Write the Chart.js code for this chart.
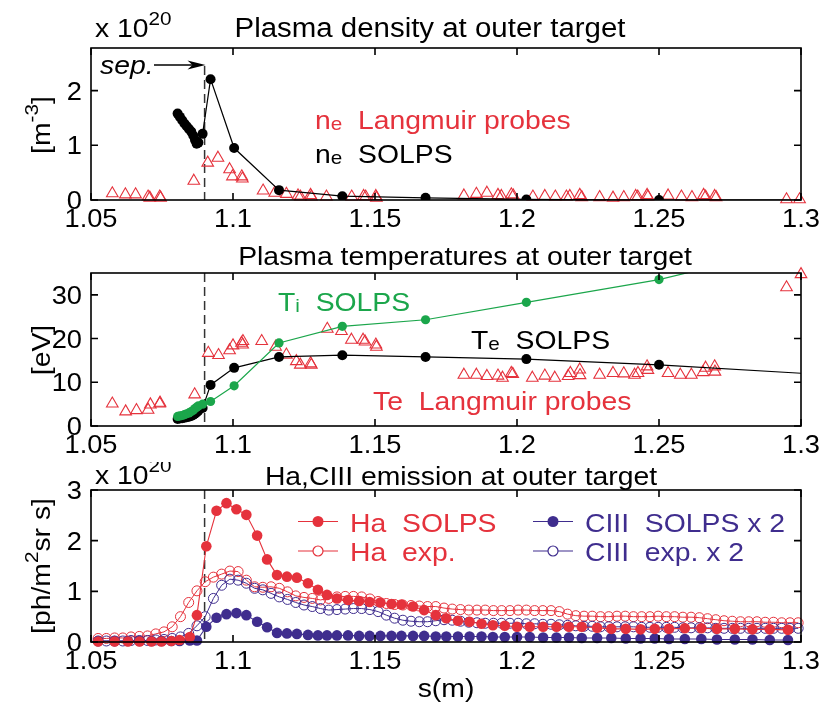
<!DOCTYPE html>
<html>
<head>
<meta charset="utf-8">
<script src="https://cdn.jsdelivr.net/npm/chart.js@4/dist/chart.umd.min.js"></script>
<style>
  body { margin: 0; background: #fff; width: 827px; height: 704px; position: relative; overflow: hidden; }
  canvas { position: absolute; left: 0; }
</style>
</head>
<body>
<canvas id="densityChart" width="827" height="236" style="top:0px"></canvas>
<canvas id="tempChart" width="827" height="226" style="top:236px"></canvas>
<canvas id="emissionChart" width="827" height="242" style="top:462px"></canvas>
<script>
// ---- data ----
const sepS = 1.09;
const xTicks = [1.05, 1.1, 1.15, 1.2, 1.25, 1.3];
const neTicks = [0, 1, 2];
const tTicks = [0, 10, 20, 30];
const emTicks = [0, 1, 2, 3];

// SOLPS grid points along the target (s in m), shared by ne, Te, Ti
const solpsS = [1.0805, 1.0813, 1.0821, 1.0829, 1.0837, 1.0845, 1.0853, 1.0860, 1.0866, 1.0872,
  1.0878, 1.0893, 1.0921, 1.1004, 1.1162, 1.1385, 1.1678, 1.2033, 1.25, 1.32];
const neSolps = [1.58, 1.52, 1.46, 1.40, 1.35, 1.30, 1.25, 1.18, 1.10, 1.03,
  1.05, 1.21, 2.21, 0.95, 0.18, 0.07, 0.04, 0.01, 0.0, 0.0];
const teSolps = [1.6, 1.7, 1.8, 1.9, 2.0, 2.1, 2.3, 2.5, 2.8, 3.1,
  3.5, 4.1, 9.4, 13.3, 15.8, 16.2, 15.8, 15.3, 14.0, 11.3];
const tiSolps = [2.2, 2.3, 2.4, 2.6, 2.8, 3.0, 3.3, 3.6, 4.0, 4.3,
  4.6, 5.0, 5.6, 9.2, 19.0, 22.8, 24.3, 28.3, 33.5, 44.4];

// Langmuir probes
const neProbeS = [1.0575, 1.0621, 1.0657, 1.0701, 1.0707, 1.0742, 1.0745, 1.0862, 1.0911, 1.0947,
  1.0988, 1.0998, 1.1031, 1.1033, 1.1106, 1.1147, 1.1188, 1.1229, 1.1237, 1.1273,
  1.1276, 1.1329, 1.1418, 1.1460, 1.1467, 1.1503, 1.1505, 1.1813, 1.1857, 1.1894,
  1.1933, 1.1945, 1.1980, 1.1987, 1.2056, 1.2098, 1.2135, 1.2174, 1.2186, 1.2221,
  1.2228, 1.2291, 1.2338, 1.2376, 1.2418, 1.2425, 1.2458, 1.2461, 1.2532, 1.2579,
  1.2616, 1.2657, 1.2664, 1.2696, 1.2701, 1.2949, 1.2995];
const neProbe = [0.12, 0.10, 0.10, 0.06, 0.04, 0.06, 0.04, 0.35, 0.68, 0.77,
  0.56, 0.43, 0.43, 0.39, 0.17, 0.13, 0.11, 0.08, 0.06, 0.09,
  0.06, 0.06, 0.06, 0.07, 0.06, 0.07, 0.04, 0.08, 0.11, 0.13,
  0.09, 0.07, 0.10, 0.08, 0.06, 0.07, 0.06, 0.06, 0.07, 0.09,
  0.05, 0.05, 0.04, 0.05, 0.07, 0.06, 0.09, 0.06, 0.08, 0.06,
  0.05, 0.09, 0.06, 0.07, 0.05, 0.01, 0.01];
const teProbeS = [1.0575, 1.0622, 1.0660, 1.0701, 1.0709, 1.0742, 1.0743, 1.0865, 1.0913, 1.0949,
  1.0988, 1.1000, 1.1030, 1.1034, 1.1035, 1.1101, 1.1150, 1.1188, 1.1223, 1.1237,
  1.1273, 1.1276, 1.1332, 1.1382, 1.1417, 1.1458, 1.1465, 1.1503, 1.1505, 1.1813,
  1.1857, 1.1894, 1.1933, 1.1949, 1.1980, 1.1985, 1.2054, 1.2098, 1.2133, 1.2180,
  1.2188, 1.2221, 1.2222, 1.2291, 1.2338, 1.2376, 1.2414, 1.2426, 1.2458, 1.2461,
  1.2532, 1.2575, 1.2614, 1.2655, 1.2664, 1.2696, 1.2697, 1.2949, 1.3000];
const teProbe = [5.1, 3.3, 3.6, 3.7, 4.9, 5.1, 5.3, 7.2, 16.7, 16.2,
  17.3, 18.4, 19.0, 18.6, 19.4, 19.4, 18.1, 16.3, 14.8, 14.0,
  14.3, 14.0, 22.2, 21.7, 19.7, 19.7, 19.3, 18.6, 18.1, 11.7,
  11.7, 11.4, 11.5, 11.0, 12.1, 11.9, 11.0, 11.5, 11.0, 11.4,
  12.1, 12.9, 11.6, 11.7, 12.1, 12.0, 11.7, 12.1, 13.6, 12.8,
  12.1, 11.7, 11.7, 12.3, 13.3, 13.6, 12.4, 31.7, 34.7];

// emission, SOLPS grid
const emSolpsS = [1.0525, 1.0583, 1.0630, 1.0671, 1.0713, 1.0748, 1.0783, 1.0812, 1.0848, 1.0873,
  1.0906, 1.0942, 1.0977, 1.1012, 1.1047, 1.1085, 1.1120, 1.1155, 1.1190, 1.1225,
  1.1264, 1.1299, 1.1331, 1.1366, 1.1405, 1.1444, 1.1481, 1.1519, 1.1558, 1.1593,
  1.1634, 1.1673, 1.1714, 1.1751, 1.1792, 1.1833, 1.1875, 1.1915, 1.1957, 1.2000,
  1.2045, 1.2092, 1.2139, 1.2183, 1.2228, 1.2282, 1.2332, 1.2383, 1.2435, 1.2485,
  1.2535, 1.2591, 1.2649, 1.2704, 1.2767, 1.2829, 1.2890, 1.2954];
const haSolps = [0.01, 0.01, 0.01, 0.01, 0.01, 0.01, 0.02, 0.04, 0.10, 0.53,
  1.89, 2.59, 2.74, 2.62, 2.51, 2.10, 1.63, 1.32, 1.29, 1.27,
  1.16, 1.03, 0.93, 0.86, 0.83, 0.81, 0.79, 0.78, 0.75, 0.74,
  0.70, 0.63, 0.53, 0.47, 0.42, 0.40, 0.36, 0.33, 0.32, 0.30,
  0.30, 0.30, 0.30, 0.30, 0.30, 0.28, 0.26, 0.26, 0.25, 0.26,
  0.26, 0.27, 0.27, 0.26, 0.26, 0.25, 0.25, 0.24];
const ciiiSolps = [0.02, 0.02, 0.02, 0.02, 0.02, 0.02, 0.02, 0.02, 0.03, 0.03,
  0.30, 0.48, 0.55, 0.57, 0.53, 0.40, 0.29, 0.18, 0.17, 0.16,
  0.14, 0.13, 0.13, 0.13, 0.13, 0.12, 0.12, 0.12, 0.12, 0.12,
  0.12, 0.12, 0.11, 0.11, 0.11, 0.11, 0.11, 0.10, 0.10, 0.10,
  0.10, 0.09, 0.09, 0.09, 0.08, 0.08, 0.08, 0.07, 0.07, 0.07,
  0.06, 0.06, 0.06, 0.05, 0.05, 0.05, 0.04, 0.04];

// emission, experiment grid
const emExpS = [1.0525, 1.0554, 1.0583, 1.0612, 1.0641, 1.0670, 1.0699, 1.0728, 1.0757, 1.0786,
  1.0815, 1.0844, 1.0873, 1.0902, 1.0931, 1.0960, 1.0989, 1.1018, 1.1047, 1.1076,
  1.1105, 1.1134, 1.1163, 1.1192, 1.1221, 1.1250, 1.1279, 1.1308, 1.1337, 1.1366,
  1.1395, 1.1424, 1.1453, 1.1482, 1.1511, 1.1540, 1.1569, 1.1598, 1.1627, 1.1656,
  1.1685, 1.1714, 1.1743, 1.1772, 1.1801, 1.1830, 1.1859, 1.1888, 1.1917, 1.1946,
  1.1975, 1.2004, 1.2033, 1.2062, 1.2091, 1.2120, 1.2149, 1.2178, 1.2207, 1.2236,
  1.2265, 1.2294, 1.2323, 1.2352, 1.2381, 1.2410, 1.2439, 1.2468, 1.2497, 1.2526,
  1.2555, 1.2584, 1.2613, 1.2642, 1.2671, 1.2700, 1.2729, 1.2758, 1.2787, 1.2816,
  1.2845, 1.2874, 1.2903, 1.2932, 1.2961, 1.2990];
const haExp = [0.07, 0.07, 0.08, 0.08, 0.10, 0.11, 0.12, 0.16, 0.20, 0.30,
  0.50, 0.78, 1.01, 1.19, 1.28, 1.34, 1.40, 1.39, 1.22, 1.09,
  1.08, 1.09, 1.06, 0.99, 0.91, 0.88, 0.86, 0.83, 0.86, 0.89,
  0.90, 0.90, 0.89, 0.85, 0.80, 0.76, 0.74, 0.73, 0.72, 0.71,
  0.70, 0.70, 0.67, 0.65, 0.64, 0.63, 0.63, 0.63, 0.62, 0.62,
  0.62, 0.63, 0.63, 0.62, 0.62, 0.62, 0.60, 0.55, 0.52, 0.51,
  0.51, 0.50, 0.50, 0.51, 0.51, 0.50, 0.50, 0.50, 0.51, 0.50,
  0.50, 0.49, 0.49, 0.48, 0.46, 0.44, 0.42, 0.41, 0.40, 0.40,
  0.40, 0.39, 0.39, 0.38, 0.38, 0.38];
const ciiiExp = [0.02, 0.02, 0.02, 0.02, 0.03, 0.03, 0.03, 0.04, 0.05, 0.07,
  0.10, 0.17, 0.32, 0.50, 0.86, 1.12, 1.24, 1.22, 1.16, 1.06,
  1.03, 0.96, 0.89, 0.84, 0.78, 0.73, 0.70, 0.66, 0.63, 0.64,
  0.65, 0.66, 0.66, 0.64, 0.60, 0.53, 0.47, 0.43, 0.41, 0.40,
  0.40, 0.42, 0.44, 0.43, 0.41, 0.39, 0.38, 0.37, 0.37, 0.37,
  0.37, 0.37, 0.36, 0.36, 0.35, 0.35, 0.34, 0.33, 0.32, 0.31,
  0.31, 0.30, 0.30, 0.30, 0.30, 0.30, 0.29, 0.29, 0.29, 0.29,
  0.29, 0.28, 0.28, 0.28, 0.28, 0.27, 0.27, 0.27, 0.27, 0.27,
  0.27, 0.27, 0.27, 0.27, 0.27, 0.27];

// ---- styling ----
const RED = '#e5323c';
const GREEN = '#1ba64b';
const PURPLE = '#3f2d8e';
const FONT = '"Liberation Sans", Arial, Helvetica, sans-serif';
const SX = 1.09; // lettering in the reference is a bit wide

const pts = (xs, ys) => xs.map((s, i) => ({ x: s, y: ys[i] }));

function fontFor(kind, size, italic) {
  const sz = kind === 'n' ? size : Math.round(size * 0.72);
  return (italic ? 'italic ' : '') + sz + 'px ' + FONT;
}

// text made of parts: ['n', str] normal, ['sub', str] small on baseline, ['sup', str] small raised
function drawRich(ctx, t, dy) {
  const size = t.size || 26;
  let w = 0;
  t.parts.forEach(([k, s]) => { ctx.font = fontFor(k, size, t.italic); w += ctx.measureText(s).width; });
  ctx.save();
  ctx.translate(t.x, t.y - dy);
  if (t.rotate) ctx.rotate(-Math.PI / 2);
  ctx.scale(SX, 1);
  let cx = t.align === 'center' ? -w / 2 : (t.align === 'right' ? -w : 0);
  ctx.fillStyle = t.color || '#000';
  ctx.textBaseline = 'alphabetic';
  ctx.textAlign = 'left';
  t.parts.forEach(([k, s]) => {
    ctx.font = fontFor(k, size, t.italic);
    const off = k === 'sup' ? -size * 0.45 : (k === 'sub' ? 1 : 0);
    ctx.fillText(s, cx, off);
    cx += ctx.measureText(s).width;
  });
  ctx.restore();
}

const deco = {
  id: 'deco',
  beforeDatasetsDraw(chart, args, o) {
    const { ctx, chartArea: a, scales: { x } } = chart;
    const px = x.getPixelForValue(sepS);
    ctx.save();
    ctx.strokeStyle = '#333';
    ctx.lineWidth = 1.5;
    ctx.setLineDash([9, 5]);
    ctx.beginPath();
    ctx.moveTo(px, a.top + (o.sepTop || 0));
    ctx.lineTo(px, a.bottom);
    ctx.stroke();
    ctx.restore();
  },
  afterDraw(chart, args, o) {
    const { ctx, chartArea: a, scales: { x, y } } = chart;
    const dy = o.offset || 0;
    ctx.save();
    // box and inward ticks
    ctx.strokeStyle = '#000';
    ctx.lineWidth = 1.6;
    ctx.strokeRect(a.left, a.top, a.right - a.left, a.bottom - a.top);
    ctx.beginPath();
    x.ticks.forEach(t => {
      const p = x.getPixelForValue(t.value);
      ctx.moveTo(p, a.bottom); ctx.lineTo(p, a.bottom - 7);
      ctx.moveTo(p, a.top); ctx.lineTo(p, a.top + 7);
    });
    y.ticks.forEach(t => {
      const p = y.getPixelForValue(t.value);
      ctx.moveTo(a.left, p); ctx.lineTo(a.left + 7, p);
      ctx.moveTo(a.right, p); ctx.lineTo(a.right - 7, p);
    });
    ctx.stroke();
    // tick labels
    x.ticks.forEach(t => drawRich(ctx, { x: x.getPixelForValue(t.value), y: a.bottom + 27, align: 'center', size: 25, parts: [['n', String(t.value)]] }, 0));
    y.ticks.forEach(t => drawRich(ctx, { x: a.left - 9, y: y.getPixelForValue(t.value) + 9, align: 'right', size: 25, parts: [['n', String(t.value)]] }, 0));
    // separatrix arrow
    if (o.arrow) {
      const [x1, x2, ay] = o.arrow;
      ctx.fillStyle = '#000';
      ctx.lineWidth = 1.3;
      ctx.beginPath(); ctx.moveTo(x1, ay - dy); ctx.lineTo(x2 - 10, ay - dy); ctx.stroke();
      ctx.beginPath();
      ctx.moveTo(x2, ay - dy); ctx.lineTo(x2 - 18, ay - dy - 4.5); ctx.lineTo(x2 - 13, ay - dy); ctx.lineTo(x2 - 18, ay - dy + 4.5);
      ctx.closePath(); ctx.fill();
    }
    // legend rows
    (o.legend || []).forEach(l => {
      ctx.strokeStyle = l.color; ctx.lineWidth = 1.2;
      ctx.beginPath(); ctx.moveTo(l.x1, l.y - dy); ctx.lineTo(l.x2, l.y - dy); ctx.stroke();
      ctx.beginPath(); ctx.arc((l.x1 + l.x2) / 2, l.y - dy, l.filled ? 5.5 : 5, 0, Math.PI * 2);
      if (l.filled) { ctx.fillStyle = l.color; ctx.fill(); } else { ctx.fillStyle = '#fff'; ctx.fill(); ctx.stroke(); }
      drawRich(ctx, { x: l.x2 + 12, y: l.y + 10, color: l.color, parts: l.parts }, dy);
    });
    (o.texts || []).forEach(t => drawRich(ctx, t, dy));
    ctx.restore();
  }
};

function xScale() {
  return {
    type: 'linear', min: 1.05, max: 1.3,
    afterBuildTicks: s => { s.ticks = xTicks.map(v => ({ value: v })); },
    afterFit: s => { s.height = 36; },
    grid: { display: false, drawTicks: false }, border: { display: false }, ticks: { display: false }
  };
}
function yScale(max, ticks) {
  return {
    type: 'linear', min: 0, max: max,
    afterBuildTicks: s => { s.ticks = ticks.map(v => ({ value: v })); },
    afterFit: s => { s.width = 91; },
    grid: { display: false, drawTicks: false }, border: { display: false }, ticks: { display: false }
  };
}

window.onload = function () {
  const densityChart = new Chart(document.getElementById('densityChart'), {
    type: 'scatter',
    data: {
      datasets: [{
        label: 'ne SOLPS',
        data: pts(solpsS, neSolps),
        showLine: true, borderColor: '#000', borderWidth: 1.2,
        pointRadius: 5, pointBackgroundColor: '#000', pointBorderColor: '#000', pointBorderWidth: 0
      }, {
        label: 'ne Langmuir probes',
        data: pts(neProbeS, neProbe),
        pointStyle: 'triangle', pointRadius: 6.7, pointBorderWidth: 1.1,
        pointBorderColor: RED, pointBackgroundColor: 'rgba(0,0,0,0)', clip: false
      }]
    },
    options: {
      responsive: false, animation: false,
      layout: { padding: { top: 48, right: 26, left: 0, bottom: 0 } },
      scales: { x: xScale(), y: yScale(2.78, neTicks) },
      plugins: {
        legend: { display: false }, tooltip: { enabled: false },
        deco: {
          offset: 0, sepTop: 18, arrow: [154, 205.5, 65],
          texts: [
            { x: 95, y: 37, parts: [['n', 'x 10'], ['sup', '20']] },
            { x: 430, y: 37, align: 'center', size: 27, parts: [['n', 'Plasma density at outer target']] },
            { x: 100, y: 74, italic: true, parts: [['n', 'sep.']] },
            { x: 315, y: 129, color: RED, parts: [['n', 'n'], ['sub', 'e'], ['n', '  Langmuir probes']] },
            { x: 315, y: 163, parts: [['n', 'n'], ['sub', 'e'], ['n', '  SOLPS']] },
            { x: 50, y: 125, rotate: true, align: 'center', parts: [['n', '[m'], ['sup', '-3'], ['n', ']']] }
          ]
        }
      }
    },
    plugins: [deco]
  });

  const tempChart = new Chart(document.getElementById('tempChart'), {
    type: 'scatter',
    data: {
      datasets: [{
        label: 'Ti SOLPS',
        data: pts(solpsS, tiSolps),
        showLine: true, borderColor: GREEN, borderWidth: 1.2,
        pointRadius: 4.6, pointBackgroundColor: GREEN, pointBorderColor: GREEN, pointBorderWidth: 0
      }, {
        label: 'Te SOLPS',
        data: pts(solpsS, teSolps),
        showLine: true, borderColor: '#000', borderWidth: 1.2,
        pointRadius: 5, pointBackgroundColor: '#000', pointBorderColor: '#000', pointBorderWidth: 0
      }, {
        label: 'Te Langmuir probes',
        data: pts(teProbeS, teProbe),
        pointStyle: 'triangle', pointRadius: 6.7, pointBorderWidth: 1.1,
        pointBorderColor: RED, pointBackgroundColor: 'rgba(0,0,0,0)', clip: false
      }]
    },
    options: {
      responsive: false, animation: false,
      layout: { padding: { top: 37, right: 26, left: 0, bottom: 0 } },
      scales: { x: xScale(), y: yScale(35, tTicks) },
      plugins: {
        legend: { display: false }, tooltip: { enabled: false },
        deco: {
          offset: 236,
          texts: [
            { x: 465, y: 265, align: 'center', parts: [['n', 'Plasma temperatures at outer target']] },
            { x: 278, y: 311, color: GREEN, parts: [['n', 'T'], ['sub', 'i'], ['n', '  SOLPS']] },
            { x: 471, y: 349, parts: [['n', 'T'], ['sub', 'e'], ['n', '  SOLPS']] },
            { x: 373, y: 410, color: RED, parts: [['n', 'Te  Langmuir probes']] },
            { x: 50, y: 350, rotate: true, align: 'center', parts: [['n', '[eV]']] }
          ]
        }
      }
    },
    plugins: [deco]
  });

  const emissionChart = new Chart(document.getElementById('emissionChart'), {
    type: 'scatter',
    data: {
      datasets: [{
        label: 'Ha SOLPS',
        data: pts(emSolpsS, haSolps),
        showLine: true, borderColor: RED, borderWidth: 1.1,
        pointRadius: 5.3, pointBackgroundColor: RED, pointBorderColor: RED, pointBorderWidth: 0, clip: false
      }, {
        label: 'CIII SOLPS x 2',
        data: pts(emSolpsS, ciiiSolps),
        showLine: true, borderColor: PURPLE, borderWidth: 1.1,
        pointRadius: 5.3, pointBackgroundColor: PURPLE, pointBorderColor: PURPLE, pointBorderWidth: 0, clip: false
      }, {
        label: 'CIII exp. x 2',
        data: pts(emExpS, ciiiExp),
        showLine: true, borderColor: PURPLE, borderWidth: 1,
        pointRadius: 5, pointBackgroundColor: 'rgba(0,0,0,0)', pointBorderColor: PURPLE, pointBorderWidth: 1, clip: false
      }, {
        label: 'Ha exp.',
        data: pts(emExpS, haExp),
        showLine: true, borderColor: RED, borderWidth: 1,
        pointRadius: 5, pointBackgroundColor: 'rgba(0,0,0,0)', pointBorderColor: RED, pointBorderWidth: 1, clip: false
      }]
    },
    options: {
      responsive: false, animation: false,
      layout: { padding: { top: 28, right: 26, left: 0, bottom: 26 } },
      scales: { x: xScale(), y: yScale(3, emTicks) },
      plugins: {
        legend: { display: false }, tooltip: { enabled: false },
        deco: {
          offset: 462,
          legend: [
            { x1: 298, x2: 338, y: 521.5, color: RED, filled: true, parts: [['n', 'Ha  SOLPS']] },
            { x1: 298, x2: 338, y: 551, color: RED, filled: false, parts: [['n', 'Ha  exp.']] },
            { x1: 533, x2: 573, y: 521.5, color: PURPLE, filled: true, parts: [['n', 'CIII  SOLPS x 2']] },
            { x1: 533, x2: 573, y: 551, color: PURPLE, filled: false, parts: [['n', 'CIII  exp. x 2']] }
          ],
          texts: [
            { x: 95, y: 484, parts: [['n', 'x 10'], ['sup', '20']] },
            { x: 461, y: 485, align: 'center', parts: [['n', 'Ha,CIII emission at outer target']] },
            { x: 50, y: 566, rotate: true, align: 'center', parts: [['n', '[ph/m'], ['sup', '2'], ['n', 'sr s]']] },
            { x: 446, y: 697, align: 'center', parts: [['n', 's(m)']] }
          ]
        }
      }
    },
    plugins: [deco]
  });
};
</script>
</body>
</html>
